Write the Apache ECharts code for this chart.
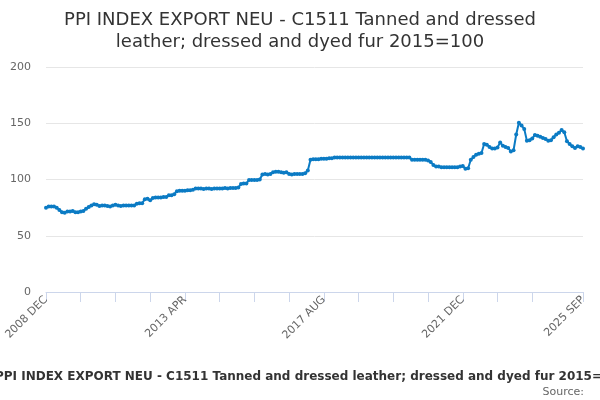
<!DOCTYPE html>
<html lang="en">
<head>
    <meta charset="UTF-8">
    <title>PPI INDEX EXPORT NEU - C1511</title>
    <script src="https://cdn.jsdelivr.net/npm/echarts@6/dist/echarts.min.js"></script>
    <style>
        html, body { margin: 0; padding: 0; background: #fff; }
        #main { width: 600px; height: 400px; }
    </style>
</head>
<body>
<div id="main"></div>
<script>
    var seriesName = 'PPI INDEX EXPORT NEU - C1511 Tanned and dressed leather; dressed and dyed fur 2015=100';
    var monthNames = ['JAN', 'FEB', 'MAR', 'APR', 'MAY', 'JUN', 'JUL', 'AUG', 'SEP', 'OCT', 'NOV', 'DEC'];

    // monthly, 2008 DEC .. 2025 SEP
    var months = [];
    for (var y = 2008, m = 11; y < 2025 || (y === 2025 && m <= 8); m++) {
        if (m > 11) { m = 0; y++; }
        if (y === 2025 && m > 8) break;
        months.push(y + ' ' + monthNames[m]);
    }

    var values = [
        75, 76, 76, 76, 75, 73, 71, 70.5, 71.5, 71.5,
        72, 71, 71, 71.5, 72, 74, 75.5, 77, 78, 77.5,
        76.5, 77, 77, 76.5, 76, 77, 77.5, 77, 76.5, 77,
        77, 77, 77, 77, 78.5, 79, 79, 82.5, 83, 81.5,
        83.5, 84, 84, 84, 84.5, 84.5, 86, 86, 87, 89.5,
        90, 90, 90, 90.5, 90.5, 91, 92, 92, 92, 91.5,
        92, 92, 91.5, 92, 92, 92, 92, 92.5, 92, 92.5,
        92.5, 92.5, 93, 96, 96.5, 96.5, 99.5, 99.5, 99.5, 99.5,
        100, 104.5, 105, 104.5, 105, 106.5, 107, 107, 106.5, 106,
        106.5, 105, 104.5, 105, 105, 105, 105, 105.5, 108, 117.5,
        118, 118, 118, 118.5, 118.5, 118.5, 119, 119, 119.5, 119.5,
        119.5, 119.5, 119.5, 119.5, 119.5, 119.5, 119.5, 119.5, 119.5, 119.5,
        119.5, 119.5, 119.5, 119.5, 119.5, 119.5, 119.5, 119.5, 119.5, 119.5,
        119.5, 119.5, 119.5, 119.5, 119.5, 119.5, 119.5, 117.5, 117.5, 117.5,
        117.5, 117.5, 117.5, 117, 115.5, 113, 111.5, 111.5, 111, 111,
        111, 111, 111, 111, 111, 111.5, 112, 109.5, 110, 117.5,
        120, 122, 123, 123.5, 131.5, 131, 129, 127.5, 127.5, 128.5,
        133, 130, 129, 128, 125, 126, 140, 150.5, 148, 145,
        134.5, 135, 136.5, 139.5, 139, 138, 137, 136, 134.5, 135,
        137.5, 140, 141.5, 144, 142, 134, 131.5, 129.5, 128, 129.5,
        129, 127.5
    ];

    var yTicks = [0, 50, 100, 150, 200];

    var chart = echarts.init(document.getElementById('main'));
    var last = months.length - 1;

    chart.setOption({
        animation: false,
        textStyle: { fontFamily: 'DejaVu Sans' },
        title: [{
            text: 'PPI INDEX EXPORT NEU - C1511 Tanned and dressed\nleather; dressed and dyed fur 2015=100',
            left: 'center',
            top: 4,
            textStyle: { fontSize: 18, fontWeight: 'normal', color: '#333333', lineHeight: 22 }
        }, {
            text: 'Source:',
            right: 11,
            top: 382,
            textStyle: { fontSize: 11, fontWeight: 'normal', color: '#666666' }
        }],
        legend: {
            data: [seriesName],
            left: 'center',
            top: 366,
            itemWidth: 16,
            itemHeight: 6,
            textStyle: { fontSize: 12, fontWeight: 'bold', color: '#333333' }
        },
        grid: { left: 46, right: 17, top: 67, bottom: 108, containLabel: false },
        xAxis: {
            type: 'category',
            data: months,
            boundaryGap: false,
            axisLine: { lineStyle: { color: '#ccd6eb' } },
            axisTick: {
                length: 10,
                lineStyle: { color: '#ccd6eb' },
                interval: function (i) { return (i % 13 === 0 && i < 195) || i === last; }
            },
            axisLabel: {
                rotate: 45,
                color: '#666666',
                fontSize: 11,
                margin: 6,
                interval: function (i) { return i % 52 === 0 || i === last; }
            },
            splitLine: { show: false }
        },
        yAxis: {
            type: 'value',
            min: yTicks[0],
            max: yTicks[yTicks.length - 1],
            interval: 50,
            axisLine: { show: false },
            axisTick: { show: false },
            axisLabel: { color: '#666666', fontSize: 11, margin: 15 },
            splitLine: { lineStyle: { color: '#e6e6e6' } }
        },
        series: [{
            name: seriesName,
            type: 'line',
            data: values,
            symbol: 'circle',
            symbolSize: 4,
            showSymbol: true,
            showAllSymbol: true,
            color: '#0b7bc4',
            lineStyle: { width: 2, color: '#0b7bc4' },
            itemStyle: { color: '#0b7bc4' }
        }]
    });
</script>
</body>
</html>
